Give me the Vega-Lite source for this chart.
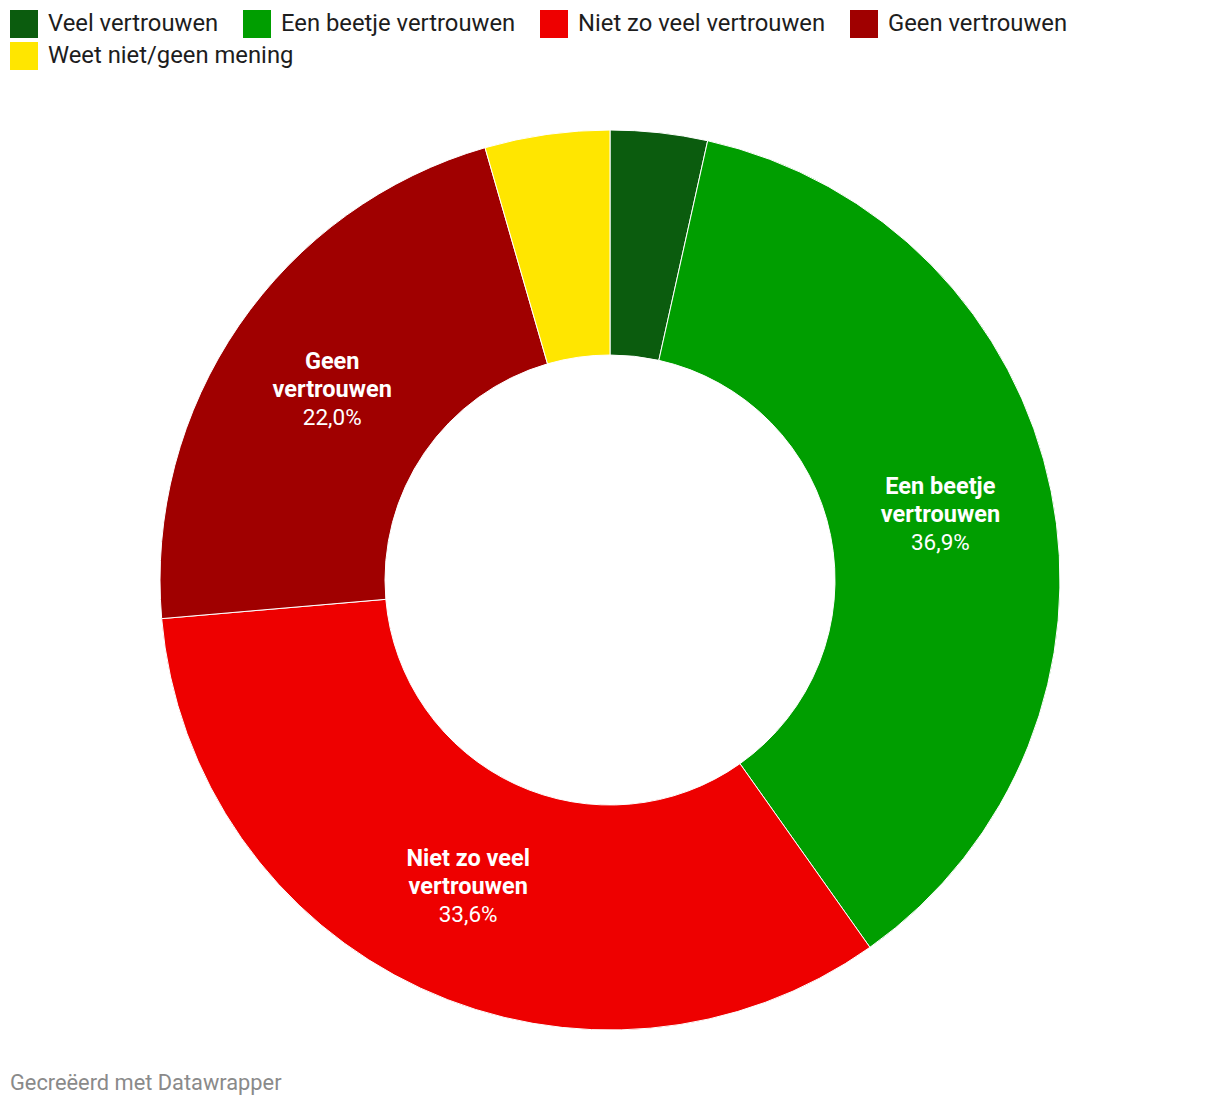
{
  "$schema": "https://vega.github.io/schema/vega-lite/v6.json",
  "width": 1220,
  "height": 980,
  "autosize": {"type": "none"},
  "padding": {"top": 90, "left": 0, "right": 0, "bottom": 36},
  "background": "white",
  "config": {
    "view": {"stroke": null},
    "font": "Roboto",
    "locale": {"number": {"decimal": ",", "thousands": ".", "grouping": [3], "currency": ["€", ""]}}
  },
  "title": {
    "text": "Gecreëerd met Datawrapper",
    "orient": "bottom",
    "anchor": "start",
    "frame": "group",
    "dx": 10,
    "offset": 3,
    "fontSize": 21.8,
    "fontWeight": "normal",
    "color": "#8a8a8a",
    "font": "Roboto"
  },
  "data": {
    "values": [
      {"i": 1, "cat": "Veel vertrouwen", "share": 0.035, "lab": ""},
      {"i": 2, "cat": "Een beetje vertrouwen", "share": 0.369, "lab": "Een beetje\nvertrouwen"},
      {"i": 3, "cat": "Niet zo veel vertrouwen", "share": 0.336, "lab": "Niet zo veel\nvertrouwen"},
      {"i": 4, "cat": "Geen vertrouwen", "share": 0.22, "lab": "Geen\nvertrouwen"},
      {"i": 5, "cat": "Weet niet/geen mening", "share": 0.045, "lab": ""}
    ]
  },
  "encoding": {
    "theta": {"field": "share", "type": "quantitative", "stack": true},
    "order": {"field": "i", "type": "quantitative"}
  },
  "layer": [
    {
      "mark": {"type": "arc", "outerRadius": 450, "innerRadius": 225, "stroke": "#ffffff", "strokeWidth": 1},
      "encoding": {
        "color": {
          "field": "cat",
          "type": "nominal",
          "scale": {
            "domain": ["Veel vertrouwen", "Een beetje vertrouwen", "Niet zo veel vertrouwen", "Geen vertrouwen", "Weet niet/geen mening"],
            "range": ["#0b5c0e", "#009e00", "#ee0000", "#a00000", "#ffe600"]
          },
          "legend": {
            "title": null,
            "values": ["Veel vertrouwen", "Een beetje vertrouwen", "Niet zo veel vertrouwen", "Geen vertrouwen"],
            "orient": "none",
            "legendX": 10,
            "legendY": -80,
            "direction": "horizontal",
            "symbolType": "square",
            "symbolSize": 784,
            "symbolStrokeWidth": 0,
            "labelFont": "Roboto",
            "labelFontSize": 23.8,
            "labelColor": "#1d1d1d",
            "labelOffset": 10,
            "columnPadding": 24,
            "padding": 0,
            "labelLimit": 400
          }
        }
      }
    },
    {
      "transform": [{"filter": "datum.i == 5"}],
      "mark": {"type": "text", "text": ""},
      "encoding": {
        "fill": {
          "field": "cat",
          "type": "nominal",
          "scale": {"domain": ["Weet niet/geen mening"], "range": ["#ffe600"]},
          "legend": {
            "title": null,
            "values": ["Weet niet/geen mening"],
            "orient": "none",
            "legendX": 10,
            "legendY": -48,
            "direction": "horizontal",
            "symbolType": "square",
            "symbolSize": 784,
            "symbolStrokeWidth": 0,
            "symbolOpacity": 1,
            "labelFont": "Roboto",
            "labelFontSize": 23.8,
            "labelColor": "#1d1d1d",
            "labelOffset": 10,
            "padding": 0,
            "labelLimit": 400
          }
        }
      }
    },
    {
      "mark": {"type": "text", "radius": 337, "font": "Roboto", "fontWeight": "bold", "fontSize": 23.5, "fill": "#ffffff", "lineBreak": "\n", "lineHeight": 28, "dy": -27},
      "encoding": {"text": {"field": "lab", "type": "nominal"}}
    },
    {
      "mark": {"type": "text", "radius": 337, "font": "Roboto", "fontSize": 22.5, "fill": "#ffffff", "dy": 29},
      "encoding": {
        "text": {"field": "share", "type": "quantitative", "format": ".1%"},
        "opacity": {"condition": {"test": "datum.share < 0.1", "value": 0}, "value": 1}
      }
    }
  ]
}
